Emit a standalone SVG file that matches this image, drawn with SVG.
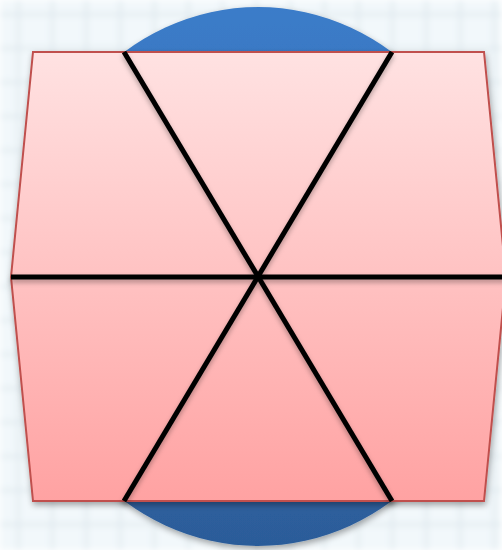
<svg xmlns="http://www.w3.org/2000/svg" width="502" height="550" viewBox="0 0 502 550">
  <defs>
    <pattern id="grid" width="34" height="34" patternUnits="userSpaceOnUse" x="-17" y="-21">
      <rect width="34" height="34" fill="#f2f8fb"/>
      <path d="M0 0H34M0 0V34" stroke="#dde7ec" stroke-width="5" fill="none"/>
    </pattern>
    <filter id="blur" x="-5%" y="-5%" width="110%" height="110%">
      <feGaussianBlur stdDeviation="3"/>
    </filter>
    <linearGradient id="blue" x1="0" y1="0" x2="0" y2="1">
      <stop offset="0" stop-color="#3b7cc9"/>
      <stop offset="1" stop-color="#2c5c99"/>
    </linearGradient>
    <linearGradient id="pink" x1="0" y1="0" x2="0" y2="1">
      <stop offset="0" stop-color="#ffe2e2"/>
      <stop offset="1" stop-color="#ffa2a2"/>
    </linearGradient>
    <filter id="shadow" x="-10%" y="-10%" width="120%" height="120%">
      <feDropShadow dx="1" dy="3" stdDeviation="3" flood-color="#000" flood-opacity="0.35"/>
    </filter>
    <filter id="lshadow" x="-10%" y="-10%" width="120%" height="120%">
      <feDropShadow dx="0" dy="3" stdDeviation="2.5" flood-color="#000" flood-opacity="0.3"/>
    </filter>
  </defs>
  <style>
    .cut { stroke: #000; stroke-width: 5; stroke-linecap: butt; fill: none; }
  </style>
  <rect width="502" height="550" fill="url(#grid)" filter="url(#blur)"/>
  <g id="disc" filter="url(#shadow)">
    <ellipse cx="258" cy="276.5" rx="242" ry="269.5" fill="url(#blue)"/>
  </g>
  <g id="hexagon" filter="url(#shadow)">
    <polygon points="33,52 484,52 506,277 484,501 33,501 11,277" fill="url(#pink)" stroke="#c0504d" stroke-width="2"/>
  </g>
  <g id="connectors" filter="url(#lshadow)">
    <line class="cut" x1="11" y1="277" x2="506" y2="277"/>
    <line class="cut" x1="124" y1="52" x2="392" y2="501"/>
    <line class="cut" x1="392" y1="52" x2="124" y2="501"/>
  </g>
</svg>
